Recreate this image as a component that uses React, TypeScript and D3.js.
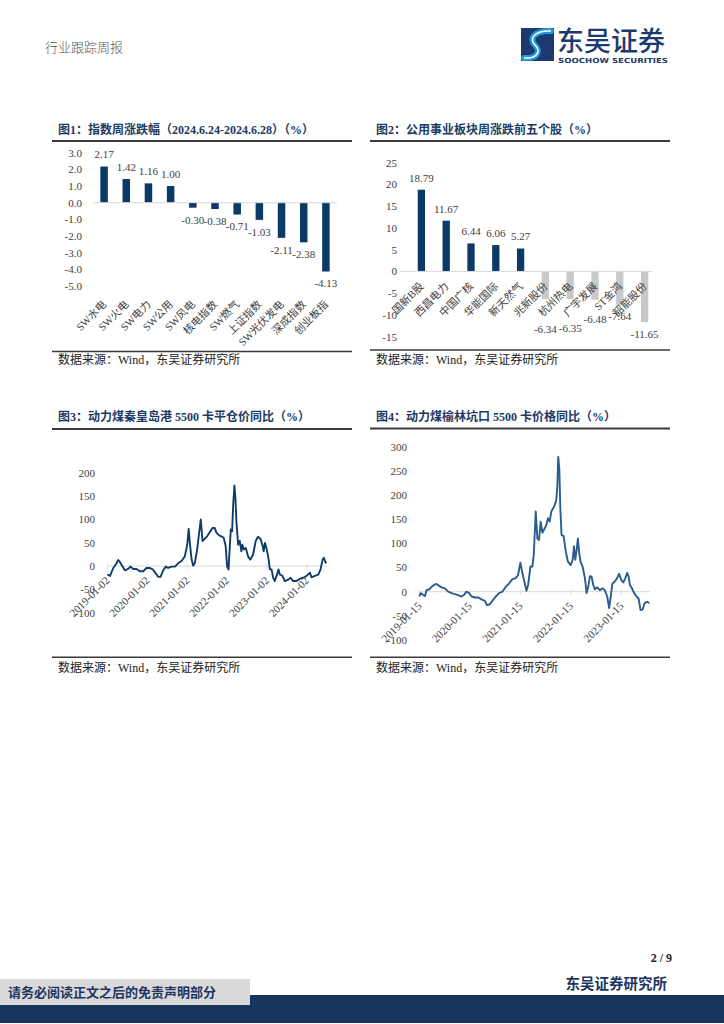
import React from 'react';
import * as d3 from 'd3';

// ---------- data ----------
const c1Categories = ['SW水电', 'SW火电', 'SW电力', 'SW公用', 'SW风电', '核电指数', 'SW燃气', '上证指数', 'SW光伏发电', '深成指数', '创业板指'];
const c1Values = [2.17, 1.42, 1.16, 1.0, -0.3, -0.38, -0.71, -1.03, -2.11, -2.38, -4.13];
const c1YTicks = [3, 2, 1, 0, -1, -2, -3, -4, -5];

const c2Categories = ['国新B股', '西昌电力', '中国广核', '华能国际', '新天然气', '兆新股份', '杭州热电', '广宇发展', 'ST金鸿', '韶能股份'];
const c2Values = [18.79, 11.67, 6.44, 6.06, 5.27, -6.34, -6.35, -6.48, -7.64, -11.65];
const c2YTicks = [25, 20, 15, 10, 5, 0, -5, -10, -15];
const c2LabelShift = [12, 12, 12, 12, 12, 30, 29, 20, 11, 12];

const c3Dates = ['2019-01-02','2019-01-27','2019-02-26','2019-03-22','2019-04-12','2019-04-27','2019-05-22','2019-06-12','2019-07-12','2019-08-03','2019-08-27','2019-09-27','2019-10-27','2019-11-27','2019-12-27','2020-01-27','2020-02-21','2020-03-13','2020-04-13','2020-05-03','2020-05-28','2020-06-21','2020-07-12','2020-08-11','2020-09-12','2020-10-12','2020-11-12','2020-12-12','2021-01-03','2021-01-16','2021-01-27','2021-02-12','2021-02-27','2021-03-14','2021-04-04','2021-04-22','2021-05-07','2021-05-23','2021-06-13','2021-07-04','2021-07-28','2021-08-22','2021-09-12','2021-09-27','2021-10-22','2021-11-12','2021-12-03','2021-12-21','2022-01-03','2022-01-16','2022-01-28','2022-02-06','2022-02-18','2022-02-27','2022-03-11','2022-03-21','2022-03-30','2022-04-14','2022-04-29','2022-05-14','2022-05-23','2022-06-05','2022-06-23','2022-07-14','2022-08-04','2022-08-29','2022-09-22','2022-10-13','2022-11-04','2022-11-22','2022-12-04','2022-12-16','2022-12-29','2023-01-14','2023-01-30','2023-02-14','2023-03-01','2023-03-16','2023-04-01','2023-04-19','2023-05-01','2023-05-25','2023-06-16','2023-07-16','2023-08-07','2023-08-31','2023-10-01','2023-10-31','2023-12-01','2024-01-01','2024-01-31','2024-02-15','2024-03-17','2024-04-17','2024-05-08','2024-05-26','2024-06-08','2024-06-20','2024-07-01'];
const c3Values = [-18,-21,-4,4,13,9,-1,-9,-6,-1,-6,-6,-11,-11,-4,-4,-7,-13,-23,-23,-9,-1,-4,-1,-1,6,11,21,46,80,50,14,1,7,36,72,100,54,59,64,73,82,82,72,66,64,61,43,0,-7,43,79,75,129,173,143,93,46,54,32,46,36,39,21,14,25,54,63,59,46,32,50,39,21,-7,-7,-25,-32,-21,-7,-18,-21,-32,-29,-25,-32,-32,-27,-25,-21,-14,-24,-21,-18,-7,14,18,9,6];
const c3XTicks = ['2019-01-02', '2020-01-02', '2021-01-02', '2022-01-02', '2023-01-02', '2024-01-02'];
const c3YTicks = [200, 150, 100, 50, 0, -50, -100];

const c4Dates = ['2019-01-15','2019-01-25','2019-02-13','2019-02-25','2019-03-09','2019-03-28','2019-04-14','2019-05-01','2019-05-20','2019-06-08','2019-06-25','2019-07-19','2019-08-12','2019-09-05','2019-09-29','2019-10-23','2019-11-16','2019-12-03','2019-12-22','2020-01-11','2020-01-28','2020-02-21','2020-03-16','2020-04-09','2020-05-03','2020-05-20','2020-06-08','2020-07-02','2020-07-21','2020-08-14','2020-09-07','2020-10-01','2020-10-25','2020-11-18','2020-12-12','2020-12-29','2021-01-15','2021-01-30','2021-02-16','2021-02-28','2021-03-12','2021-03-29','2021-04-12','2021-04-22','2021-05-06','2021-05-18','2021-05-30','2021-06-11','2021-06-23','2021-07-05','2021-07-22','2021-08-03','2021-08-15','2021-08-27','2021-09-08','2021-09-20','2021-10-02','2021-10-09','2021-10-16','2021-10-24','2021-10-31','2021-11-09','2021-11-24','2021-12-08','2021-12-25','2022-01-14','2022-01-28','2022-02-07','2022-02-16','2022-02-26','2022-03-07','2022-03-17','2022-03-26','2022-04-10','2022-04-27','2022-05-09','2022-05-21','2022-06-02','2022-06-14','2022-06-26','2022-07-08','2022-07-25','2022-08-13','2022-09-01','2022-09-18','2022-10-05','2022-10-19','2022-10-31','2022-11-12','2022-11-29','2022-12-16','2022-12-30','2023-01-15','2023-01-29','2023-02-13','2023-02-27','2023-03-09','2023-03-18','2023-04-02','2023-04-16','2023-05-05','2023-05-20','2023-06-03','2023-06-18','2023-07-04','2023-07-21','2023-08-05'];
const c4Values = [-10,-3,-7,-9,3,5,10,14,16,12,9,7,0,-3,-5,-7,-10,-7,0,-3,-10,-12,-12,-16,-19,-28,-26,-17,-10,-3,0,10,17,26,28,34,60,38,17,2,14,52,52,76,166,110,107,145,122,128,138,152,145,166,172,179,190,217,279,252,172,117,115,86,62,55,66,94,66,86,110,79,62,52,28,-3,10,32,31,14,5,9,3,7,3,-10,-34,-10,17,21,28,37,24,19,28,39,31,14,7,-2,-10,-14,-38,-37,-23,-21,-24];
const c4XTicks = ['2019-01-15', '2020-01-15', '2021-01-15', '2022-01-15', '2023-01-15'];
const c4YTicks = [300, 250, 200, 150, 100, 50, 0, -50, -100];

// ---------- style ----------
const NUM = "'Liberation Serif', 'Times New Roman', serif";
const MIX = "'Liberation Serif', 'Noto Sans CJK SC', serif";
const CJK = "'Noto Sans CJK SC', sans-serif";
const NAVY = '#1d3a63';
const BAR = '#0b3a66';
const GRAYBAR = '#c9c9c9';
const TXT = '#404040';
const AXIS = '#d9d9d9';

const parse = d3.timeParse('%Y-%m-%d');

function Panel({ x, title, titleY, ruleY, bottomY, sourceY }: any) {
  return (
    <g>
      <text x={x + 6} y={titleY} fontFamily={MIX} fontWeight={700} fontSize={12} fill={NAVY}>{title}</text>
      <line x1={x} x2={x + 300} y1={ruleY} y2={ruleY} stroke="#3a3a3a" strokeWidth={1.8} />
      <line x1={x} x2={x + 300} y1={bottomY} y2={bottomY} stroke="#3a3a3a" strokeWidth={1.5} />
      <text x={x + 6} y={sourceY} fontFamily={MIX} fontSize={12} fill="#222">数据来源：Wind，东吴证券研究所</text>
    </g>
  );
}

function BarChart({ cats, vals, yTicks, yDomain, yRange, xRange, lineX, barW, labelX, labelShift, negColor, catY, tickFmt }: any) {
  const y = d3.scaleLinear().domain(yDomain).range(yRange);
  const x = d3.scaleBand().domain(cats).range(xRange).padding(0);
  const y0 = y(0);
  return (
    <g>
      {yTicks.map((t: number) => (
        <text key={t} x={labelX} y={y(t)} dy="0.35em" textAnchor="end" fontFamily={NUM} fontSize={11} fill={TXT}>{tickFmt(t)}</text>
      ))}
      {cats.map((c: string, i: number) => {
        const v = vals[i];
        const cx = (x(c) as number) + x.bandwidth() / 2;
        return (
          <rect key={c} x={cx - barW / 2} width={barW} y={Math.min(y(v), y0)} height={Math.abs(y(v) - y0)} fill={v >= 0 ? BAR : negColor} />
        );
      })}
      <line x1={lineX[0]} x2={lineX[1]} y1={y0} y2={y0} stroke={AXIS} strokeWidth={1} />
      {cats.map((c: string, i: number) => {
        const cx = (x(c) as number) + x.bandwidth() / 2;
        return (
          <text key={'c' + c} transform={`translate(${cx + 3},${catY}) rotate(-45)`} textAnchor="end" fontFamily={MIX} fontSize={10.7} fill={TXT}>{c}</text>
        );
      })}
      {cats.map((c: string, i: number) => {
        const v = vals[i];
        const cx = (x(c) as number) + x.bandwidth() / 2;
        const ly = v >= 0 ? y(v) - labelShift[i] : y(v) + labelShift[i];
        return (
          <text key={'v' + c} x={cx} y={ly} dy="0.35em" textAnchor="middle" fontFamily={NUM} fontSize={11} fill={TXT}>{v.toFixed(2)}</text>
        );
      })}
    </g>
  );
}

function LineChart({ dates, vals, xTicks, yTicks, xDomain, xRange, yDomain, yRange, labelX, lineX, color }: any) {
  const x = d3.scaleTime().domain(xDomain.map((d: string) => parse(d))).range(xRange);
  const y = d3.scaleLinear().domain(yDomain).range(yRange);
  const y0 = y(0);
  const pts = dates.map((d: string, i: number) => [x(parse(d) as Date), y(vals[i])] as [number, number]);
  const path = d3.line()(pts) || '';
  return (
    <g>
      {yTicks.map((t: number) => (
        <text key={t} x={labelX} y={y(t)} dy="0.35em" textAnchor="end" fontFamily={NUM} fontSize={11} fill={TXT}>{String(t)}</text>
      ))}
      <line x1={lineX[0]} x2={lineX[1]} y1={y0} y2={y0} stroke={AXIS} strokeWidth={1} />
      {xTicks.map((t: string) => {
        const tx = x(parse(t) as Date);
        return <line key={'k' + t} x1={tx} x2={tx} y1={y0 - 2} y2={y0 + 3} stroke={AXIS} strokeWidth={1} />;
      })}
      <path d={path} fill="none" stroke={color} strokeWidth={1.9} strokeLinejoin="round" />
      {xTicks.map((t: string) => {
        const tx = x(parse(t) as Date);
        return (
          <text key={t} transform={`translate(${tx + 3},${y0 + 15}) rotate(-45)`} textAnchor="end" fontFamily={NUM} fontSize={11} fill={TXT}>{t}</text>
        );
      })}
    </g>
  );
}

export default function App() {
  return (
    <svg width={724} height={1024} viewBox="0 0 724 1024" style={{ position: 'absolute', left: 0, top: 0, background: '#fff' }}>
      <rect x={0} y={0} width={724} height={1024} fill="#fff" />
      {/* header */}
      <text x={45} y={52} fontFamily={CJK} fontSize={13} fill="#555" fontWeight={300}>行业跟踪周报</text>
      <g>
        <rect x={521} y={28} width={33} height={33} fill="#1c3a6e" />
        <path d="M 551 31 C 536 30 528 38 535 45 C 542 52 536 59 524 58" fill="none" stroke="#2596d9" strokeWidth={6} strokeLinecap="round" />
        <path d="M 551 31 C 536 30 528 38 535 45 C 542 52 536 59 524 58" fill="none" stroke="#fff" strokeWidth={1.5} />
        <text x={557} y={51} fontFamily={CJK} fontSize={27} fontWeight={500} fill="#1c3a6e">东吴证券</text>
        <text x={558} y={63} fontFamily="'DejaVu Sans', sans-serif" fontSize={7} fontWeight={700} fill="#1c3a6e" textLength={110} lengthAdjust="spacingAndGlyphs">SOOCHOW SECURITIES</text>
      </g>

      {/* chart 1 */}
      <Panel x={52} title="图1：指数周涨跌幅（2024.6.24-2024.6.28）（%）" titleY={134} ruleY={141} bottomY={351.5} sourceY={364} />
      <BarChart cats={c1Categories} vals={c1Values} yTicks={c1YTicks} yDomain={[-5, 3]} yRange={[286, 152.7]}
        xRange={[93, 337]} lineX={[93, 337]} barW={7.5} labelX={82} labelShift={c1Values.map(() => 12)}
        negColor={BAR} catY={305} tickFmt={(t: number) => t.toFixed(1)} />

      {/* chart 2 */}
      <Panel x={370} title="图2：公用事业板块周涨跌前五个股（%）" titleY={134} ruleY={141} bottomY={350} sourceY={364} />
      <BarChart cats={c2Categories} vals={c2Values} yTicks={c2YTicks} yDomain={[-15, 25]} yRange={[336.7, 162.7]}
        xRange={[409, 657]} lineX={[400, 652]} barW={7.3} labelX={397} labelShift={c2LabelShift}
        negColor={GRAYBAR} catY={287} tickFmt={(t: number) => String(t)} />

      {/* chart 3 */}
      <Panel x={52} title="图3：动力煤秦皇岛港 5500 卡平仓价同比（%）" titleY={421} ruleY={429} bottomY={657.3} sourceY={672} />
      <LineChart dates={c3Dates} vals={c3Values} xTicks={c3XTicks} yTicks={c3YTicks}
        xDomain={['2019-01-02', '2024-01-02']} xRange={[107.3, 306.7]} yDomain={[-100, 200]} yRange={[612.7, 473]}
        labelX={95} lineX={[107, 327]} color="#0f3d68" />

      {/* chart 4 */}
      <Panel x={370} title="图4：动力煤榆林坑口 5500 卡价格同比（%）" titleY={421} ruleY={428.5} bottomY={657.3} sourceY={672} />
      <LineChart dates={c4Dates} vals={c4Values} xTicks={c4XTicks} yTicks={c4YTicks}
        xDomain={['2019-01-15', '2023-01-15']} xRange={[419.3, 621.3]} yDomain={[-100, 300]} yRange={[640, 446.7]}
        labelX={407} lineX={[419, 650]} color="#2b5c8e" />

      {/* footer */}
      <text x={672} y={962} textAnchor="end" fontFamily={NUM} fontWeight={700} fontSize={12} fill="#222">2 / 9</text>
      <text x={667} y={989} textAnchor="end" fontFamily={CJK} fontWeight={700} fontSize={14.5} fill="#1c3560">东吴证券研究所</text>
      <rect x={0} y={995} width={724} height={28} fill="#17365d" />
      <rect x={0} y={979} width={250} height={26} fill="#d9d9d9" />
      <text x={8} y={997} fontFamily={CJK} fontWeight={700} fontSize={13} fill="#1c3560">请务必阅读正文之后的免责声明部分</text>
    </svg>
  );
}
